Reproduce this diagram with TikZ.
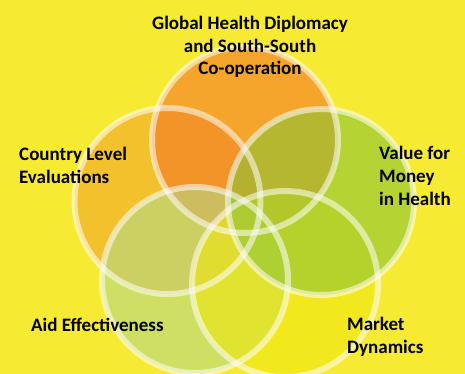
\documentclass[tikz,border=0pt]{standalone}
\usepackage{fontspec}
\setmainfont{Carlito}
\definecolor{bgyellow}{RGB}{247,234,51}
\definecolor{cleorange}{RGB}{240,166,38}
\definecolor{ghorange}{RGB}{245,119,39}
\definecolor{aegreen}{RGB}{180,217,133}
\definecolor{mdyellow}{RGB}{239,231,16}
\definecolor{vfmgreen}{RGB}{140,196,53}
\begin{document}
\begin{tikzpicture}[x=1pt,y=-1pt,
    bubble/.style={fill opacity=0.6},
    ring/.style={draw=white,draw opacity=0.55,line width=6pt},
    lbl/.style={font=\bfseries\fontsize{19}{22.7}\selectfont,inner sep=0pt,text=black}]
    \fill[bgyellow] (0,0) rectangle (465,374);
    \useasboundingbox (0,0) rectangle (465,374);
    % circle centres
    \coordinate (cCle) at (167.5,201);
    \coordinate (cGh) at (245,140);
    \coordinate (cAe) at (195,280);
    \coordinate (cMd) at (285,284);
    \coordinate (cVfm) at (321,202);
    % fills, back to front
    \foreach \c/\col in {cCle/cleorange, cGh/ghorange, cAe/aegreen, cMd/mdyellow, cVfm/vfmgreen}
        \fill[bubble,\col] (\c) circle (93);
    % rings
    \foreach \c in {cCle, cGh, cAe, cMd, cVfm}
        \draw[ring] (\c) circle (93);
    % labels (base = last line)
    \node[lbl,anchor=base,align=center] (gh) at (250,75) {Global Health Diplomacy\\and South-South\\Co-operation};
    \node[lbl,anchor=base west,align=left] (cle) at (19,183) {Country Level\\Evaluations};
    \node[lbl,anchor=base west,align=left] (vfm) at (379,205) {Value for\\Money\\in Health};
    \node[lbl,anchor=base west,align=left] (ae) at (31,331) {Aid Effectiveness};
    \node[lbl,anchor=base west,align=left] (md) at (347,353) {Market\\Dynamics};
\end{tikzpicture}
\end{document}
